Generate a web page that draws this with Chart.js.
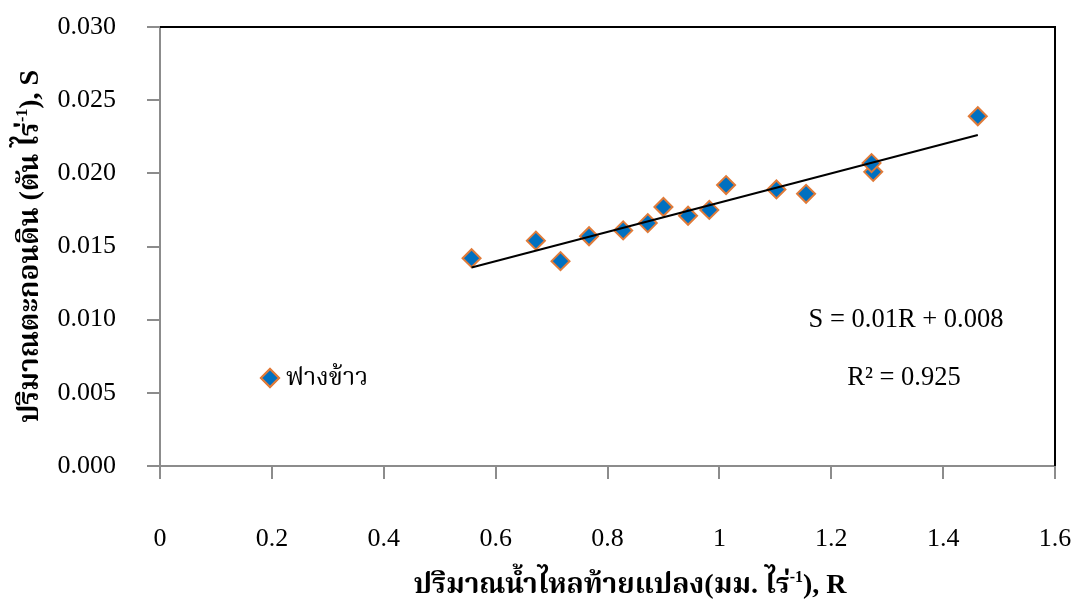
<!DOCTYPE html>
<html>
<head>
<meta charset="utf-8">
<script src="https://cdn.jsdelivr.net/npm/chart.js@4.4.1/dist/chart.umd.min.js"></script>
<style>
  html, body { margin: 0; padding: 0; background: #ffffff; }
  #wrap { width: 1076px; height: 599px; position: relative; }
</style>
</head>
<body>
<div id="wrap"><canvas id="chart" width="1076" height="599"></canvas></div>
<script>
// Runoff (R, mm per rai) and sediment yield (S, ton per rai) for the rice-straw plots
const seriesName = 'ฟางข้าว';
const runoffR   = [0.557, 0.672, 0.716, 0.767, 0.828, 0.872, 0.900, 0.944, 0.982, 1.012, 1.102, 1.155, 1.275, 1.272, 1.462];
const sedimentS = [0.0142, 0.0154, 0.0140, 0.0157, 0.0161, 0.0166, 0.0177, 0.0171, 0.0175, 0.0192, 0.0189, 0.0186, 0.0201, 0.0207, 0.0239];

// Linear fit S = a·R + b, as printed in the equation label
const trendSlope = 0.01;
const trendIntercept = 0.008;
const equationLines = ['S = 0.01R + 0.008', 'R² = 0.925'];

// Axis ticks
const xTickValues = [0, 0.2, 0.4, 0.6, 0.8, 1, 1.2, 1.4, 1.6];
const xTickLabels = ['0', '0.2', '0.4', '0.6', '0.8', '1', '1.2', '1.4', '1.6'];
const yTickValues = [0, 0.005, 0.010, 0.015, 0.020, 0.025, 0.030];
const yTickLabels = ['0.000', '0.005', '0.010', '0.015', '0.020', '0.025', '0.030'];

// Axis titles (base text, superscript, tail)
const xTitleParts = ['ปริมาณน้ำไหลท้ายแปลง(มม. ไร่', '-1', '), R'];
const yTitleParts = ['ปริมาณตะกอนดิน (ตัน ไร่', '-1', '), S'];

const SERIF = '"Liberation Serif", "Times New Roman", Tinos, "Noto Serif Thai", Kinnari, Norasi, "Noto Sans Thai Looped", serif';
const FILL = '#0070C0';
const EDGE = '#E07B39';
const AXIS_GREY = '#8C8C8C';

const rMin = Math.min(...runoffR);
const rMax = Math.max(...runoffR);
const trendData = [rMin, rMax].map(r => ({ x: r, y: trendSlope * r + trendIntercept }));
const pointData = runoffR.map((r, i) => ({ x: r, y: sedimentS[i] }));

function drawRich(ctx, parts, x, y, baseFont, supFont, supRise) {
  ctx.font = baseFont;
  const w0 = ctx.measureText(parts[0]).width;
  const w2 = ctx.measureText(parts[2]).width;
  ctx.font = supFont;
  const w1 = ctx.measureText(parts[1]).width;
  let cx = x - (w0 + w1 + w2) / 2;
  ctx.textAlign = 'left';
  ctx.textBaseline = 'alphabetic';
  ctx.font = baseFont;
  ctx.fillText(parts[0], cx, y);
  cx += w0;
  ctx.font = supFont;
  ctx.fillText(parts[1], cx, y - supRise);
  cx += w1;
  ctx.font = baseFont;
  ctx.fillText(parts[2], cx, y);
}

const decorations = {
  id: 'decorations',
  beforeDatasetsDraw(chart) {
    const { ctx, chartArea: a } = chart;
    ctx.save();
    // plot frame: top and right edges
    ctx.strokeStyle = '#000000';
    ctx.lineWidth = 2;
    ctx.beginPath();
    ctx.moveTo(a.left, a.top);
    ctx.lineTo(a.right, a.top);
    ctx.lineTo(a.right, a.bottom);
    ctx.stroke();
    ctx.restore();
  },
  afterDraw(chart) {
    const { ctx, chartArea: a } = chart;
    ctx.save();

    // legend entry inside the plot
    const lx = a.left + 110, ly = 378;
    ctx.fillStyle = FILL;
    ctx.strokeStyle = EDGE;
    ctx.lineWidth = 2;
    Chart.helpers.drawPoint(ctx, { pointStyle: 'rectRot', radius: 9, borderWidth: 2 }, lx, ly);
    ctx.fill();
    ctx.stroke();
    ctx.fillStyle = '#000000';
    ctx.font = '25px ' + SERIF;
    ctx.textAlign = 'left';
    ctx.textBaseline = 'middle';
    ctx.fillText(seriesName, lx + 16, ly);

    // trendline equation
    ctx.font = '26.5px ' + SERIF;
    ctx.textAlign = 'center';
    ctx.fillText(equationLines[0], 906, 320);
    ctx.fillText(equationLines[1], 904, 378);

    // axis titles
    const bFont = 'bold 28px ' + SERIF;
    const sFont = 'bold 16px ' + SERIF;
    drawRich(ctx, xTitleParts, 630, 593, bFont, sFont, 11);

    ctx.save();
    ctx.translate(38, (a.top + a.bottom) / 2);
    ctx.rotate(-Math.PI / 2);
    drawRich(ctx, yTitleParts, 0, 0, bFont, sFont, 11);
    ctx.restore();

    ctx.restore();
  }
};

new Chart(document.getElementById('chart'), {
  type: 'scatter',
  data: {
    datasets: [
      {
        label: 'trend',
        type: 'line',
        data: trendData,
        borderColor: '#000000',
        borderWidth: 2,
        pointRadius: 0,
        fill: false,
        order: 0
      },
      {
        label: seriesName,
        data: pointData,
        pointStyle: 'rectRot',
        pointRadius: 9,
        pointHoverRadius: 9,
        backgroundColor: FILL,
        borderColor: EDGE,
        borderWidth: 2,
        order: 1
      }
    ]
  },
  options: {
    responsive: false,
    animation: false,
    devicePixelRatio: 1,
    events: [],
    layout: { padding: { left: 0, right: 21, top: 27, bottom: 0 } },
    plugins: { legend: { display: false }, tooltip: { enabled: false }, title: { display: false } },
    scales: {
      x: {
        type: 'linear',
        min: 0,
        max: 1.6,
        afterBuildTicks(scale) { scale.ticks = xTickValues.map(v => ({ value: v })); },
        afterFit(scale) {
          scale.height = 133;
          scale.paddingLeft = 0;
          scale.paddingRight = 0;
        },
        ticks: {
          callback: (v, i) => xTickLabels[i],
          font: { family: SERIF, size: 26 },
          color: '#000000',
          padding: 45,
          maxRotation: 0,
          autoSkip: false
        },
        grid: { drawOnChartArea: false, drawTicks: true, tickLength: 13, color: AXIS_GREY, lineWidth: 2 },
        border: { display: true, color: AXIS_GREY, width: 2 }
      },
      y: {
        type: 'linear',
        min: 0,
        max: 0.03,
        afterBuildTicks(scale) { scale.ticks = yTickValues.map(v => ({ value: v })); },
        afterFit(scale) {
          scale.width = 160;
          scale.paddingTop = 0;
          scale.paddingBottom = 0;
        },
        ticks: {
          callback: (v, i) => yTickLabels[i],
          font: { family: SERIF, size: 26 },
          color: '#000000',
          padding: 31,
          autoSkip: false
        },
        grid: { drawOnChartArea: false, drawTicks: true, tickLength: 13, color: AXIS_GREY, lineWidth: 2 },
        border: { display: true, color: AXIS_GREY, width: 2 }
      }
    }
  },
  plugins: [decorations]
});
</script>
</body>
</html>
